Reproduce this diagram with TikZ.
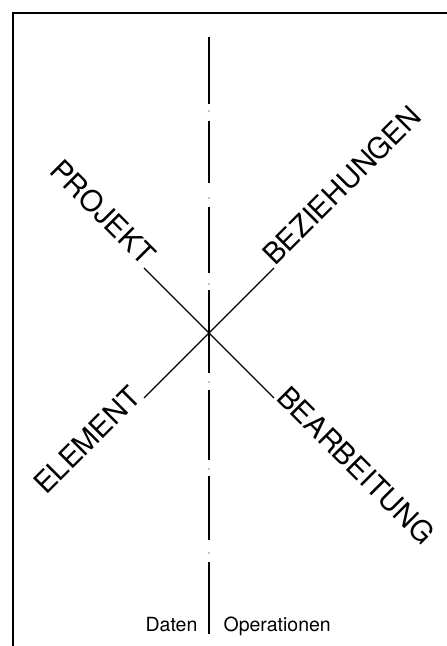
\documentclass[tikz,border=0pt]{standalone}
\usepackage{fontspec}
\setmainfont{TeX Gyre Heros}
\begin{document}
\begin{tikzpicture}[x=1pt, y=1pt, line width=1.2pt,
  arm/.style={line width=1.2pt},
  achse/.style={line width=1.1pt},
  wort/.style={font=\fontsize{29}{29}\selectfont, inner sep=1pt},
  seite/.style={font=\fontsize{19.5}{20}\selectfont, inner sep=0pt}]
  \useasboundingbox (0,0) rectangle (447,646);
  % Rahmen (rechts und unten abgeschnitten)
  \draw[line width=1.2pt] (13,-20) -- (13,633) -- (470,633);
  % Kreuzungspunkt und Enden der vier Arme
  \coordinate (m) at (209,313);
  \coordinate (pro) at (144,378); \coordinate (bez) at (274,378);
  \coordinate (ele) at (144,248); \coordinate (bea) at (274,248);
  % Achse Daten | Operationen, strichpunktiert
  \foreach \o/\u in {609/542, 525/463, 439/373, 356/273, 256/186, 170/106, 84/12}
    \draw[achse] (209,\o) -- (209,\u);
  \foreach \p in {535, 448, 362, 264, 177, 93}
    \fill (209,\p) circle (0.7pt);
  \coordinate (fuss) at (209,14);
  % die beiden Diagonalen
  \draw[arm] (pro) -- (m) -- (bea);
  \draw[arm] (ele) -- (m) -- (bez);
  \node[wort, rotate=-45, anchor=base east] (tpro) at (pro) {PROJEKT};
  \node[wort, rotate=45, anchor=base west] (tbez) at (bez) {BEZIEHUNGEN};
  \node[wort, rotate=45, anchor=base east] (tele) at (ele) {ELEMENT};
  \node[wort, rotate=-45, anchor=base west] (tbea) at (bea) {BEARBEITUNG};
  \node[seite, anchor=base east] (daten) at ([xshift=-11pt]fuss) {Daten};
  \node[seite, anchor=base west] (oper) at ([xshift=14pt]fuss) {Operationen};
\end{tikzpicture}
\end{document}
